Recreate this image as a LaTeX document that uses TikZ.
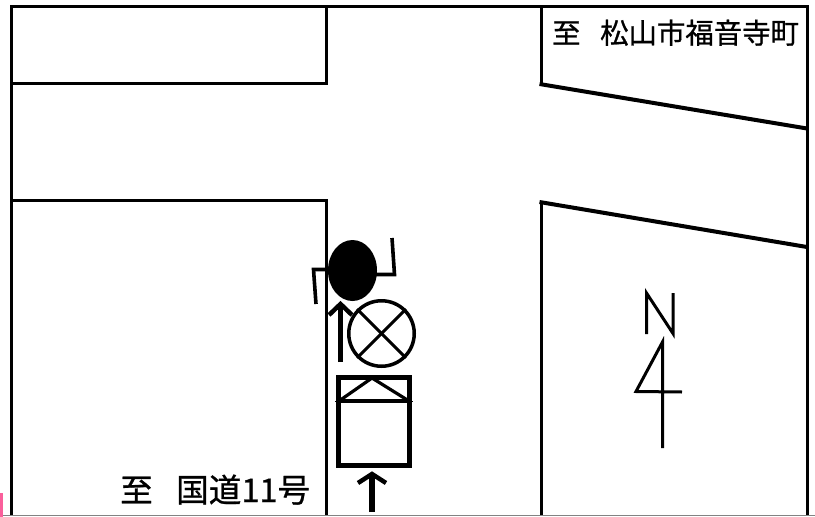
\documentclass[tikz,border=0pt]{standalone}
\usepackage{fontspec}
\newfontfamily\cjk[FakeBold=0.8]{Noto Sans CJK JP}
\definecolor{pinkmark}{RGB}{250,95,155}
\definecolor{edgegray}{RGB}{130,130,130}
\tikzset{
  road/.style={draw=black,line width=3pt,line cap=butt,line join=miter},
  slant/.style={draw=black,line width=4pt},
  shaft/.style={draw=black,line width=5.5pt},
  headline/.style={draw=black,line width=4.5pt,line join=miter},
  limb/.style={draw=black,line width=3.6pt,line join=miter},
  needle/.style={draw=black,line width=3pt,line join=miter},
  upper label/.style={font=\cjk\fontsize{28.4}{28.4}\selectfont,text=black,inner sep=0pt,anchor=base west},
  lower label/.style={font=\cjk\fontsize{32.6}{32.6}\selectfont,text=black,inner sep=0pt,anchor=base west},
}
\begin{document}
\begin{tikzpicture}[x=1pt,y=-1pt]
\useasboundingbox (0,0) rectangle (815,517);
\fill[white] (0,0) rectangle (815,517);
\fill[pinkmark] (0,493) rectangle (3,517);
\draw[edgegray,line width=1.5pt] (3,515.5) -- (815,515.5);
% frame
\draw[road] (11,515) -- (11,6.5) -- (807,6.5) -- (807,515);
% blocks
\draw[road] (11,83) -- (326,83) -- (326,6.5);
\draw[road] (11,200.5) -- (326,200.5) -- (326,515);
\draw[road] (541,6.5) -- (541,84);
\draw[slant] (539.5,84) -- (807,128.5);
\draw[road] (541,515) -- (541,202);
\draw[slant] (539.5,202) -- (807,247);
% person
\fill[black] (352.5,270.5) ellipse (24.5 and 30.5);
\draw[limb] (316,304) -- (313.5,269.5) -- (335,269.5);
\draw[limb] (372,274.5) -- (394.5,274.5) -- (392,238);
% arrow up
\draw[shaft] (340.5,362) -- (340.5,305);
\draw[headline] (329,315) -- (340.5,304) -- (352,315);
% lamp
\node[draw=black,line width=3.5pt,circle,minimum size=65.5pt,inner sep=0pt] (lamp) at (381.5,333.5) {};
\draw[needle] (lamp.45) -- (lamp.225);
\draw[needle] (lamp.135) -- (lamp.315);
% car
\draw[draw=black,line width=1pt] (335,401) -- (413,401);
\draw[draw=black,line width=5pt] (338.5,377.5) rectangle (409.5,465.5);
\draw[draw=black,line width=4pt] (338.5,400.5) -- (409.5,400.5);
\draw[draw=black,line width=3.2pt] (339,401) -- (372,378) -- (409,401);
% bottom arrow
\draw[shaft] (372,512) -- (372,475);
\draw[headline] (358,483) -- (372,474) -- (386,483);
% north mark
\draw[needle] (646.5,334) -- (646.5,293) -- (673,333.5) -- (673,293);
\draw[needle] (662.5,448) -- (662.5,342) -- (636,391.5) -- (682,392);
% text
\node[upper label] (t1) at (552,43.5) {至};
\node[upper label] (t2) at (600,43.5) {松山市福音寺町};
\node[lower label] (t3) at (120,502) {至};
\node[lower label] (t4) at (176,502) {国道11号};
\end{tikzpicture}
\end{document}
